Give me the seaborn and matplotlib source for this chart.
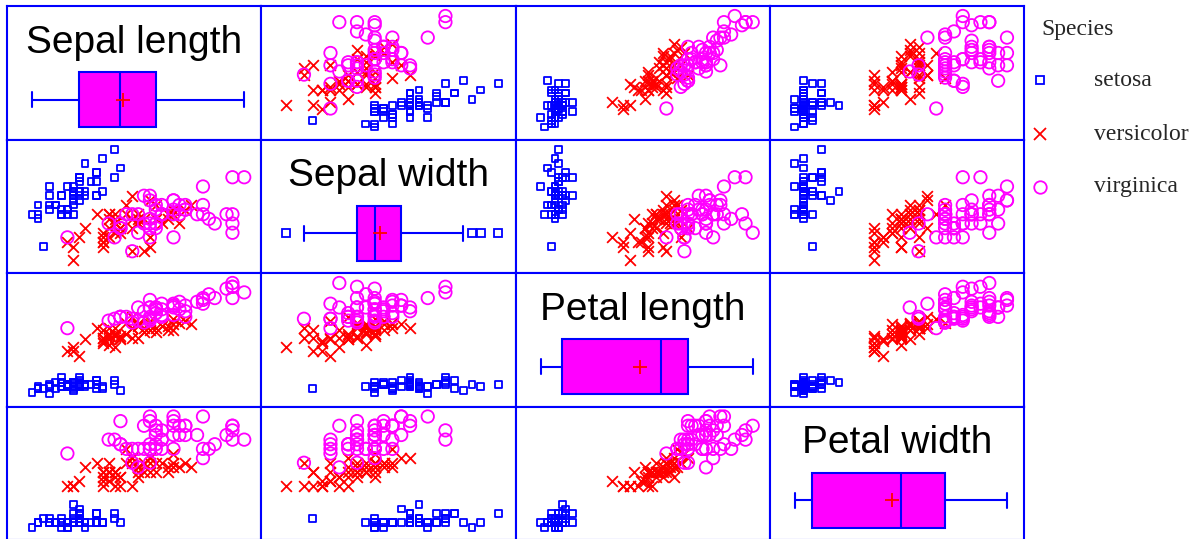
import numpy as np
import pandas as pd
import matplotlib
matplotlib.use("Agg")
import matplotlib.pyplot as plt
from matplotlib.lines import Line2D
import seaborn as sns

# ---- Iris measurements (cm) ----
species = ["setosa", "versicolor", "virginica"]
variables = ["Sepal length", "Sepal width", "Petal length", "Petal width"]

setosa_sepal_length = [5.1, 4.9, 4.7, 4.6, 5.0, 5.4, 4.6, 5.0, 4.4, 4.9, 5.4, 4.8, 4.8, 4.3, 5.8, 5.7, 5.4,
                       5.1, 5.7, 5.1, 5.4, 5.1, 4.6, 5.1, 4.8, 5.0, 5.0, 5.2, 5.2, 4.7, 4.8, 5.4, 5.2, 5.5,
                       4.9, 5.0, 5.5, 4.9, 4.4, 5.1, 5.0, 4.5, 4.4, 5.0, 5.1, 4.8, 5.1, 4.6, 5.3, 5.0]
setosa_sepal_width = [3.5, 3.0, 3.2, 3.1, 3.6, 3.9, 3.4, 3.4, 2.9, 3.1, 3.7, 3.4, 3.0, 3.0, 4.0, 4.4, 3.9,
                      3.5, 3.8, 3.8, 3.4, 3.7, 3.6, 3.3, 3.4, 3.0, 3.4, 3.5, 3.4, 3.2, 3.1, 3.4, 4.1, 4.2,
                      3.1, 3.2, 3.5, 3.6, 3.0, 3.4, 3.5, 2.3, 3.2, 3.5, 3.8, 3.0, 3.8, 3.2, 3.7, 3.3]
setosa_petal_length = [1.4, 1.4, 1.3, 1.5, 1.4, 1.7, 1.4, 1.5, 1.4, 1.5, 1.5, 1.6, 1.4, 1.1, 1.2, 1.5, 1.3,
                       1.4, 1.7, 1.5, 1.7, 1.5, 1.0, 1.7, 1.9, 1.6, 1.6, 1.5, 1.4, 1.6, 1.6, 1.5, 1.5, 1.4,
                       1.5, 1.2, 1.3, 1.4, 1.3, 1.5, 1.3, 1.3, 1.3, 1.6, 1.9, 1.4, 1.6, 1.4, 1.5, 1.4]
setosa_petal_width = [0.2, 0.2, 0.2, 0.2, 0.2, 0.4, 0.3, 0.2, 0.2, 0.1, 0.2, 0.2, 0.1, 0.1, 0.2, 0.4, 0.4,
                      0.3, 0.3, 0.3, 0.2, 0.4, 0.2, 0.5, 0.2, 0.2, 0.4, 0.2, 0.2, 0.2, 0.2, 0.4, 0.1, 0.2,
                      0.2, 0.2, 0.2, 0.1, 0.2, 0.2, 0.3, 0.3, 0.2, 0.6, 0.4, 0.3, 0.2, 0.2, 0.2, 0.2]

versicolor_sepal_length = [7.0, 6.4, 6.9, 5.5, 6.5, 5.7, 6.3, 4.9, 6.6, 5.2, 5.0, 5.9, 6.0, 6.1, 5.6, 6.7,
                           5.6, 5.8, 6.2, 5.6, 5.9, 6.1, 6.3, 6.1, 6.4, 6.6, 6.8, 6.7, 6.0, 5.7, 5.5, 5.5,
                           5.8, 6.0, 5.4, 6.0, 6.7, 6.3, 5.6, 5.5, 5.5, 6.1, 5.8, 5.0, 5.6, 5.7, 5.7, 6.2,
                           5.1, 5.7]
versicolor_sepal_width = [3.2, 3.2, 3.1, 2.3, 2.8, 2.8, 3.3, 2.4, 2.9, 2.7, 2.0, 3.0, 2.2, 2.9, 2.9, 3.1,
                          3.0, 2.7, 2.2, 2.5, 3.2, 2.8, 2.5, 2.8, 2.9, 3.0, 2.8, 3.0, 2.9, 2.6, 2.4, 2.4,
                          2.7, 2.7, 3.0, 3.4, 3.1, 2.3, 3.0, 2.5, 2.6, 3.0, 2.6, 2.3, 2.7, 3.0, 2.9, 2.9,
                          2.5, 2.8]
versicolor_petal_length = [4.7, 4.5, 4.9, 4.0, 4.6, 4.5, 4.7, 3.3, 4.6, 3.9, 3.5, 4.2, 4.0, 4.7, 3.6, 4.4,
                           4.5, 4.1, 4.5, 3.9, 4.8, 4.0, 4.9, 4.7, 4.3, 4.4, 4.8, 5.0, 4.5, 3.5, 3.8, 3.7,
                           3.9, 5.1, 4.5, 4.5, 4.7, 4.4, 4.1, 4.0, 4.4, 4.6, 4.0, 3.3, 4.2, 4.2, 4.2, 4.3,
                           3.0, 4.1]
versicolor_petal_width = [1.4, 1.5, 1.5, 1.3, 1.5, 1.3, 1.6, 1.0, 1.3, 1.4, 1.0, 1.5, 1.0, 1.4, 1.3, 1.4,
                          1.5, 1.0, 1.5, 1.1, 1.8, 1.3, 1.5, 1.2, 1.3, 1.4, 1.4, 1.7, 1.5, 1.0, 1.1, 1.0,
                          1.2, 1.6, 1.5, 1.6, 1.5, 1.3, 1.3, 1.3, 1.2, 1.4, 1.2, 1.0, 1.3, 1.2, 1.3, 1.3,
                          1.1, 1.3]

virginica_sepal_length = [6.3, 5.8, 7.1, 6.3, 6.5, 7.6, 4.9, 7.3, 6.7, 7.2, 6.5, 6.4, 6.8, 5.7, 5.8, 6.4,
                          6.5, 7.7, 7.7, 6.0, 6.9, 5.6, 7.7, 6.3, 6.7, 7.2, 6.2, 6.1, 6.4, 7.2, 7.4, 7.9,
                          6.4, 6.3, 6.1, 7.7, 6.3, 6.4, 6.0, 6.9, 6.7, 6.9, 5.8, 6.8, 6.7, 6.7, 6.3, 6.5,
                          6.2, 5.9]
virginica_sepal_width = [3.3, 2.7, 3.0, 2.9, 3.0, 3.0, 2.5, 2.9, 2.5, 3.6, 3.2, 2.7, 3.0, 2.5, 2.8, 3.2,
                         3.0, 3.8, 2.6, 2.2, 3.2, 2.8, 2.8, 2.7, 3.3, 3.2, 2.8, 3.0, 2.8, 3.0, 2.8, 3.8,
                         2.8, 2.8, 2.6, 3.0, 3.4, 3.1, 3.0, 3.1, 3.1, 3.1, 2.7, 3.2, 3.3, 3.0, 2.5, 3.0,
                         3.4, 3.0]
virginica_petal_length = [6.0, 5.1, 5.9, 5.6, 5.8, 6.6, 4.5, 6.3, 5.8, 6.1, 5.1, 5.3, 5.5, 5.0, 5.1, 5.3,
                          5.5, 6.7, 6.9, 5.0, 5.7, 4.9, 6.7, 4.9, 5.7, 6.0, 4.8, 4.9, 5.6, 5.8, 6.1, 6.4,
                          5.6, 5.1, 5.6, 6.1, 5.6, 5.5, 4.8, 5.4, 5.6, 5.1, 5.1, 5.9, 5.7, 5.2, 5.0, 5.2,
                          5.4, 5.1]
virginica_petal_width = [2.5, 1.9, 2.1, 1.8, 2.2, 2.1, 1.7, 1.8, 1.8, 2.5, 2.0, 1.9, 2.1, 2.0, 2.4, 2.3,
                         1.8, 2.2, 2.3, 1.5, 2.3, 2.0, 2.0, 1.8, 2.1, 1.8, 1.8, 1.8, 2.1, 1.6, 1.9, 2.0,
                         2.2, 1.5, 1.4, 2.3, 2.4, 1.8, 1.8, 2.1, 2.4, 2.3, 1.9, 2.3, 2.5, 2.3, 1.9, 2.0,
                         2.3, 1.8]

frames = []
for sp, cols in zip(species, [
        (setosa_sepal_length, setosa_sepal_width, setosa_petal_length, setosa_petal_width),
        (versicolor_sepal_length, versicolor_sepal_width, versicolor_petal_length, versicolor_petal_width),
        (virginica_sepal_length, virginica_sepal_width, virginica_petal_length, virginica_petal_width)]):
    d = pd.DataFrame(dict(zip(variables, cols)))
    d["Species"] = sp
    frames.append(d)
iris = pd.concat(frames, ignore_index=True)

# ---- styling ----
sns.set_style("white")
plt.rcParams["font.family"] = ["Liberation Sans", "DejaVu Sans"]

BLUE, RED, MAGENTA = "#0000FF", "#FF0000", "#FF00FF"
marker_style = {
    "setosa": dict(marker="s", s=24, facecolor="none", edgecolor=BLUE, linewidth=1.3),
    "versicolor": dict(marker="x", s=60, color=RED, linewidth=1.3),
    "virginica": dict(marker="o", s=80, facecolor="none", edgecolor=MAGENTA, linewidth=1.3),
}

W, H = 1196, 539
fig = plt.figure(figsize=(W / 100, H / 100), dpi=100)

# panel grid in pixels
X0, X1, Y0, Y1 = 7, 1024, 6, 540
cw = (X1 - X0) / 4
ch = (Y1 - Y0) / 4


def xlim_for(var):
    lo, hi = iris[var].min(), iris[var].max()
    r = hi - lo
    return lo - 25 / 212 * r, hi + 17 / 212 * r


def ylim_for(var):
    lo, hi = iris[var].min(), iris[var].max()
    r = hi - lo
    return lo - 12.5 / 111 * r, hi + 10 / 111 * r


for i, yv in enumerate(variables):
    for j, xv in enumerate(variables):
        rect = [(X0 + j * cw) / W, 1 - (Y0 + (i + 1) * ch) / H, cw / W, ch / H]
        ax = fig.add_axes(rect)
        if i == j:
            sns.boxplot(
                x=iris[xv], ax=ax, orient="h", width=0.8, color=MAGENTA,
                linecolor=BLUE, linewidth=1.5, saturation=1, whis=1.5,
                showmeans=True,
                meanprops=dict(marker="+", markeredgecolor=RED, markersize=10,
                               markeredgewidth=1.3),
                flierprops=dict(marker="s", markerfacecolor="none",
                                markeredgecolor=BLUE, markersize=6,
                                markeredgewidth=1.3),
                capwidths=0.22,
            )
            ax.set_ylim(0.58, -1.37)
            ax.text(0.5, 1 - 47 / ch, xv, transform=ax.transAxes, ha="center",
                    va="baseline", fontsize=28, color="black")
        else:
            for sp in species:
                sub = iris[iris["Species"] == sp]
                sns.scatterplot(x=sub[xv].values, y=sub[yv].values, ax=ax,
                                legend=False, **marker_style[sp])
            ax.set_ylim(*ylim_for(yv))
        ax.set_xlim(*xlim_for(xv))
        ax.set_xticks([])
        ax.set_yticks([])
        ax.set_xlabel("")
        ax.set_ylabel("")
        for s in ax.spines.values():
            s.set_visible(True)
            s.set_color(BLUE)
            s.set_linewidth(1.5)

# ---- legend ----
serif = ["Liberation Serif", "DejaVu Serif"]
fig.text(1041 / W, 1 - 35 / H, "Species", family=serif, fontsize=17,
         ha="left", va="baseline")
legend_rows = [("setosa", 80), ("versicolor", 134), ("virginica", 187)]
legend_markers = {
    "setosa": dict(marker="s", markersize=6, markerfacecolor="none",
                   markeredgecolor=BLUE, markeredgewidth=1.3),
    "versicolor": dict(marker="x", markersize=8, markeredgecolor=RED,
                       markeredgewidth=1.3),
    "virginica": dict(marker="o", markersize=9, markerfacecolor="none",
                      markeredgecolor=MAGENTA, markeredgewidth=1.3),
}
for sp, ypx in legend_rows:
    fig.add_artist(Line2D([1040 / W], [1 - ypx / H], linestyle="none",
                          transform=fig.transFigure, **legend_markers[sp]))
    fig.text(1094 / W, 1 - ypx / H, sp, family=serif, fontsize=17,
             ha="left", va="center")

fig.savefig("out.png", dpi=100)
